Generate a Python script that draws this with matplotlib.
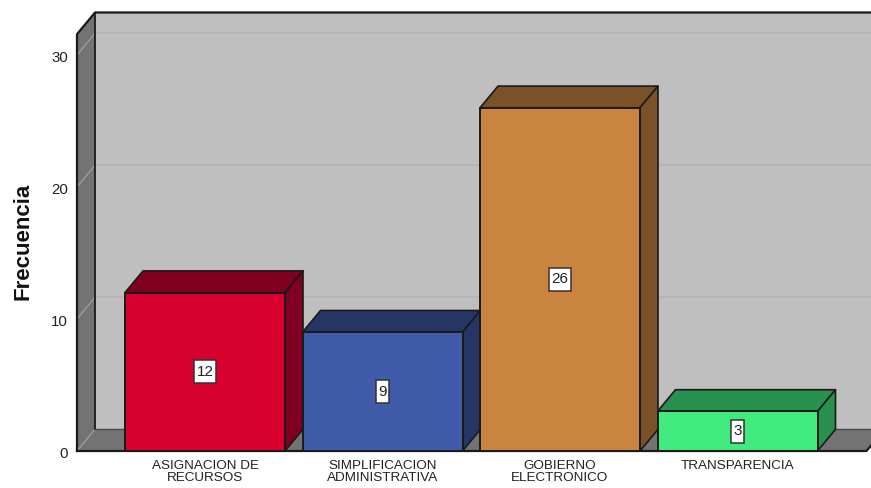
import matplotlib
matplotlib.use("Agg")
import matplotlib.pyplot as plt
from matplotlib.patches import Polygon, Rectangle
from matplotlib.transforms import ScaledTranslation

plt.rcParams['font.family'] = ['Liberation Sans', 'DejaVu Sans']

categories = ["ASIGNACION DE\nRECURSOS", "SIMPLIFICACION\nADMINISTRATIVA",
              "GOBIERNO\nELECTRONICO", "TRANSPARENCIA"]
values = [12, 9, 26, 3]
front_colors = ["#D7002F", "#3F5BA9", "#C98540", "#42EB7D"]
shade_colors = ["#7F0020", "#263664", "#7B5228", "#289150"]
y_ticks = [0, 10, 20, 30]

W, H = 871, 488
PX_Y = 13.2          # pixels per frequency unit
PX_X = 177.5         # pixels per category step
C0 = 205.0           # pixel centre of the first category
Y0 = 451.0           # pixel of value 0
TOP = 12.5           # pixel of wall top
L, R = 77.0, 871.0   # axes pixel extent
DX = 18 / PX_X       # depth offset, x
DY = 21.7 / PX_Y     # depth offset, y
BW = 160 / PX_X      # bar width

fig = plt.figure(figsize=(W / 100, H / 100), dpi=100, facecolor="white")
ax = fig.add_axes([L / W, (H - Y0) / H, (R - L) / W, (Y0 - TOP) / H])
x0 = (L - C0) / PX_X
x1 = (R - C0) / PX_X
xf = (866.5 - C0) / PX_X
ytop = (Y0 - TOP) / PX_Y
ax.set_xlim(x0, x1)
ax.set_ylim(0, ytop)
for s in ax.spines.values():
    s.set_visible(False)
ax.patch.set_visible(False)

EDGE = "#1a1a1a"
xbig = x1 + 2 * DX
# walls and floor
ax.add_patch(Polygon([(x0 + DX, DY), (xbig, DY), (xbig, ytop), (x0 + DX, ytop)],
                     fc="#BFBFBF", ec="none", zorder=1, clip_on=True))
ax.add_patch(Polygon([(x0, 0), (x0 + DX, DY), (x0 + DX, ytop), (x0, ytop - DY)],
                     fc="#737373", ec="none", zorder=1, clip_on=False))
ax.add_patch(Polygon([(x0, 0), (xf, 0), (xf + DX, DY), (x0 + DX, DY)],
                     fc="#737373", ec="none", zorder=1, clip_on=True))
# grid lines
for v in y_ticks[1:]:
    ax.plot([x0 + DX, xbig], [v + DY, v + DY], color="#B3B3B3", lw=1.2, zorder=2)
    ax.plot([x0, x0 + DX], [v, v + DY], color="#9C9C9C", lw=1.0, zorder=2)
ax.plot([x0, x0 + DX], [0, DY], color="#9C9C9C", lw=1.0, zorder=2)
# wall outlines
ax.plot([x0, x0, x0 + DX, xbig], [0, ytop - DY, ytop, ytop], color=EDGE, lw=1.6, zorder=3, clip_on=False)
ax.plot([x0 + DX, x0 + DX], [DY, ytop], color=EDGE, lw=1.3, zorder=3)
ax.plot([x0 + DX, xbig], [DY, DY], color="#4a4a4a", lw=1.0, zorder=3)
ax.plot([x0, xf, xf + DX], [0, 0, DY], color=EDGE, lw=1.6, zorder=3, clip_on=False)

# bars
positions = list(range(len(values)))
for i, (v, fc, sc) in enumerate(zip(values, front_colors, shade_colors)):
    a, b = i - BW / 2, i + BW / 2
    ax.add_patch(Polygon([(a, v), (b, v), (b + DX, v + DY), (a + DX, v + DY)],
                         fc=sc, ec=EDGE, lw=1.2, zorder=4 + i, joinstyle="round"))
    ax.add_patch(Polygon([(b, 0), (b + DX, DY), (b + DX, v + DY), (b, v)],
                         fc=sc, ec=EDGE, lw=1.2, zorder=4 + i, joinstyle="round"))
    ax.bar(i, v, width=BW, color=fc, edgecolor=EDGE, lw=1.4, zorder=4 + i + 0.5, clip_on=False)
    label = str(v)
    w_in = (4.5 + 8.5 * len(label)) / 100
    h_in = 23 / 100
    box_tr = fig.dpi_scale_trans + ScaledTranslation(i, v / 2, ax.transData)
    ax.add_patch(Rectangle((-w_in / 2, -h_in / 2), w_in, h_in, transform=box_tr,
                           fc="white", ec="#333333", lw=1.1, zorder=19))
    ax.text(i, v / 2, label, ha="center", va="center", fontsize=11, color="#222222", zorder=20)

ax.set_yticks(y_ticks)
ax.set_yticklabels([str(t) for t in y_ticks], fontsize=10.8, color="#222222")
ax.tick_params(axis="y", length=0, pad=6.5)
down = ScaledTranslation(0, -1.5 / 100, fig.dpi_scale_trans)
for lab in ax.get_yticklabels():
    lab.set_transform(lab.get_transform() + down)
ax.set_xticks(positions)
ax.set_xticklabels(categories, fontsize=9.7, color="#222222", linespacing=0.98)
ax.tick_params(axis="x", length=0, pad=6.5)

fig.text(23 / W, 1 - 241 / H, "Frecuencia", rotation=90, ha="center", va="center",
         fontsize=16, fontweight="bold", color="#111111")

fig.savefig("out.png", dpi=100, facecolor="white")
